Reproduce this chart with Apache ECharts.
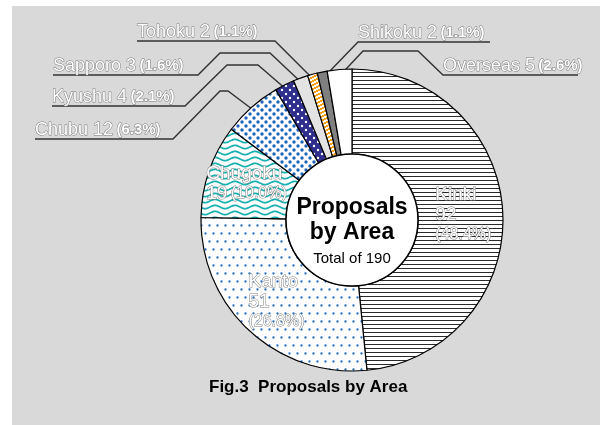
<!DOCTYPE html>
<html><head><meta charset="utf-8">
<script src="https://cdn.jsdelivr.net/npm/echarts@6/dist/echarts.min.js"></script>
<style>html,body{margin:0;padding:0;background:#fff}#c{width:600px;height:425px}</style>
</head><body><div id="c"></div>
<script>
const categories = ['Kinki','Kanto','Chugoku','Chubu','Kyushu','Sapporo','Tohoku','Shikoku','Overseas'];
const values = [92, 51, 19, 12, 4, 3, 2, 2, 5];
const insideNames = ['Kinki','Kanto','Chugoku'];
const titleText = 'Fig.3  Proposals by Area';
const centerLines = ['Proposals', 'by Area'];

const FONT = '"Liberation Sans", Arial, sans-serif';
const CENTER = [352, 220];
const total = values.reduce((a, b) => a + b, 0);
const pct = v => (v / total * 100).toFixed(1) + '%';

function tile(w, h, draw) {
  const c = document.createElement('canvas');
  c.width = w; c.height = h;
  const g = c.getContext('2d');
  draw(g, w, h);
  return c;
}
function dot(g, x, y, r) { g.beginPath(); g.arc(x, y, r, 0, Math.PI * 2); g.fill(); }

const patKinki = tile(4, 4, g => { g.fillStyle = '#fff'; g.fillRect(0, 0, 4, 4); g.fillStyle = '#2a2a2a'; g.fillRect(0, 0, 4, 1); });
const patKanto = tile(8, 16, g => { g.fillStyle = '#fff'; g.fillRect(0, 0, 8, 16); g.fillStyle = '#1f6dd0'; dot(g, 1.5, 1.5, 1.15); dot(g, 5.5, 9.5, 1.15); });
const patChugoku = tile(20, 6, g => {
  g.fillStyle = '#fff'; g.fillRect(0, 0, 20, 6);
  g.strokeStyle = '#1bb0b0'; g.lineWidth = 1.8; g.beginPath();
  for (let x = -1; x <= 21; x += 0.5) { const y = 3 + 1.6 * Math.sin(x / 20 * Math.PI * 2); if (x === -1) g.moveTo(x, y); else g.lineTo(x, y); }
  g.stroke();
});
const patChubu = tile(8, 8, g => { g.fillStyle = '#fff'; g.fillRect(0, 0, 8, 8); g.fillStyle = '#1f63b8'; dot(g, 2, 2, 1.7); dot(g, 6, 6, 1.7); });
const patKyushu = tile(8, 8, g => { g.fillStyle = '#2e2e8c'; g.fillRect(0, 0, 8, 8); g.fillStyle = '#fff'; dot(g, 2, 2, 1.2); dot(g, 6, 6, 1.2); });
const patTohoku = tile(8, 8, g => {
  g.fillStyle = '#fff'; g.fillRect(0, 0, 8, 8); g.fillStyle = '#f7a21b';
  for (let x = 0; x < 8; x++) for (let y = 0; y < 8; y++) if (((x + 2 * y) % 8) < 4) g.fillRect(x, y, 1, 1);
});

const fills = {
  Kinki: { image: patKinki, repeat: 'repeat' },
  Kanto: { image: patKanto, repeat: 'repeat' },
  Chugoku: { image: patChugoku, repeat: 'repeat' },
  Chubu: { image: patChubu, repeat: 'repeat' },
  Kyushu: { image: patKyushu, repeat: 'repeat' },
  Sapporo: '#e3e3e3',
  Tohoku: { image: patTohoku, repeat: 'repeat' },
  Shikoku: '#808080',
  Overseas: '#ffffff'
};

// label placement (layout only)
const GUIDES = {
  Chubu:    { x: 35,  y: 139, path: [[35,139],[173,139],[220,91],[228,91]] },
  Kyushu:   { x: 52,  y: 106, path: [[52,106],[185,106],[227,65],[258,65]] },
  Sapporo:  { x: 53,  y: 75,  path: [[53,75],[198,75],[220,53],[270,53]] },
  Tohoku:   { x: 137, y: 41,  path: [[137,41],[275,41]] },
  Shikoku:  { x: 358, y: 42,  path: [[490,42],[358,42]] },
  Overseas: { x: 443, y: 75,  path: [[578,75],[443,75],[418,51],[363,51]] }
};

const outlineIn = { color: '#fff', textBorderColor: '#808080', textBorderWidth: 1, fontFamily: FONT };
const outlineOut = { color: '#fff', textBorderColor: '#7a7a7a', textBorderWidth: 1, fontFamily: FONT };

const data = categories.map((name, i) => {
  const inside = insideNames.includes(name);
  const item = { name, value: values[i], itemStyle: { color: fills[name] } };
  if (inside) {
    item.label = {
      position: 'inside',
      formatter: p => name === 'Chugoku'
        ? '{n|' + p.name + '}\n{n|' + p.value + '} {p|(' + pct(p.value) + ')}'
        : '{n|' + p.name + '}\n{n|' + p.value + '}\n{p|(' + pct(p.value) + ')}',
      rich: {
        n: Object.assign({ fontSize: 19, lineHeight: 20, align: 'left' }, outlineIn),
        p: Object.assign({ fontSize: 16, lineHeight: 20, align: 'left' }, outlineIn)
      }
    };
    item.labelLine = { show: false };
  } else {
    item.label = {
      position: 'outside',
      formatter: p => '{n|' + p.name + ' ' + p.value + '} {p|(' + pct(p.value) + ')}',
      rich: {
        n: Object.assign({ fontSize: 18, lineHeight: 20 }, outlineOut),
        p: Object.assign({ fontSize: 15, fontWeight: 'bold', lineHeight: 20 }, outlineOut)
      }
    };
    item.labelLine = { show: true, length: 10, length2: 10, lineStyle: { color: '#333', width: 1.4 } };
  }
  return item;
});

const chart = echarts.init(document.getElementById('c'), null, { renderer: 'canvas' });
chart.setOption({
  animation: false,
  backgroundColor: '#fff',
  graphic: [{ type: 'rect', z: -10, shape: { x: 12, y: 6, width: 588, height: 419 }, style: { fill: '#d9d9d9' } }],
  title: {
    text: titleText, left: 204, top: 374,
    textStyle: { fontSize: 17, fontWeight: 'bold', color: '#000', fontFamily: FONT }
  },
  series: [{
    type: 'pie',
    center: CENTER,
    radius: [66, 151],
    startAngle: 90,
    clockwise: true,
    avoidLabelOverlap: false,
    emphasis: { disabled: true },
    silent: true,
    itemStyle: { borderColor: '#000', borderWidth: 1.2 },
    data,
    labelLayout: function (p) {
      const gd = GUIDES[categories[p.dataIndex]];
      if (!gd || !p.labelLinePoints) return {};
      const p0 = p.labelLinePoints[0], p1 = p.labelLinePoints[1];
      const dx = p0[0] - p1[0], dy = p0[1] - p1[1], L = Math.hypot(dx, dy) || 1;
      const anchor = [p0[0] + dx / L * 6, p0[1] + dy / L * 6];
      return { x: gd.x, y: gd.y + 1, align: 'left', verticalAlign: 'bottom', labelLinePoints: gd.path.concat([anchor]), hideOverlap: false };
    }
  }, {
    type: 'pie',
    center: CENTER,
    radius: [0, 66],
    silent: true,
    z: 3,
    emphasis: { disabled: true },
    itemStyle: { color: '#fff', borderColor: '#000', borderWidth: 1.5 },
    labelLine: { show: false },
    data: [{ value: total, name: 'center' }],
    label: {
      position: 'center',
      offset: [0, 14],
      formatter: () => '{a|' + centerLines[0] + '}\n{a|' + centerLines[1] + '}\n{b|Total of ' + total + '}',
      rich: {
        a: { fontSize: 23, fontWeight: 'bold', lineHeight: 25, color: '#000', fontFamily: FONT },
        b: { fontSize: 15, lineHeight: 28, color: '#000', fontFamily: FONT }
      }
    }
  }]
});
</script>
</body></html>
